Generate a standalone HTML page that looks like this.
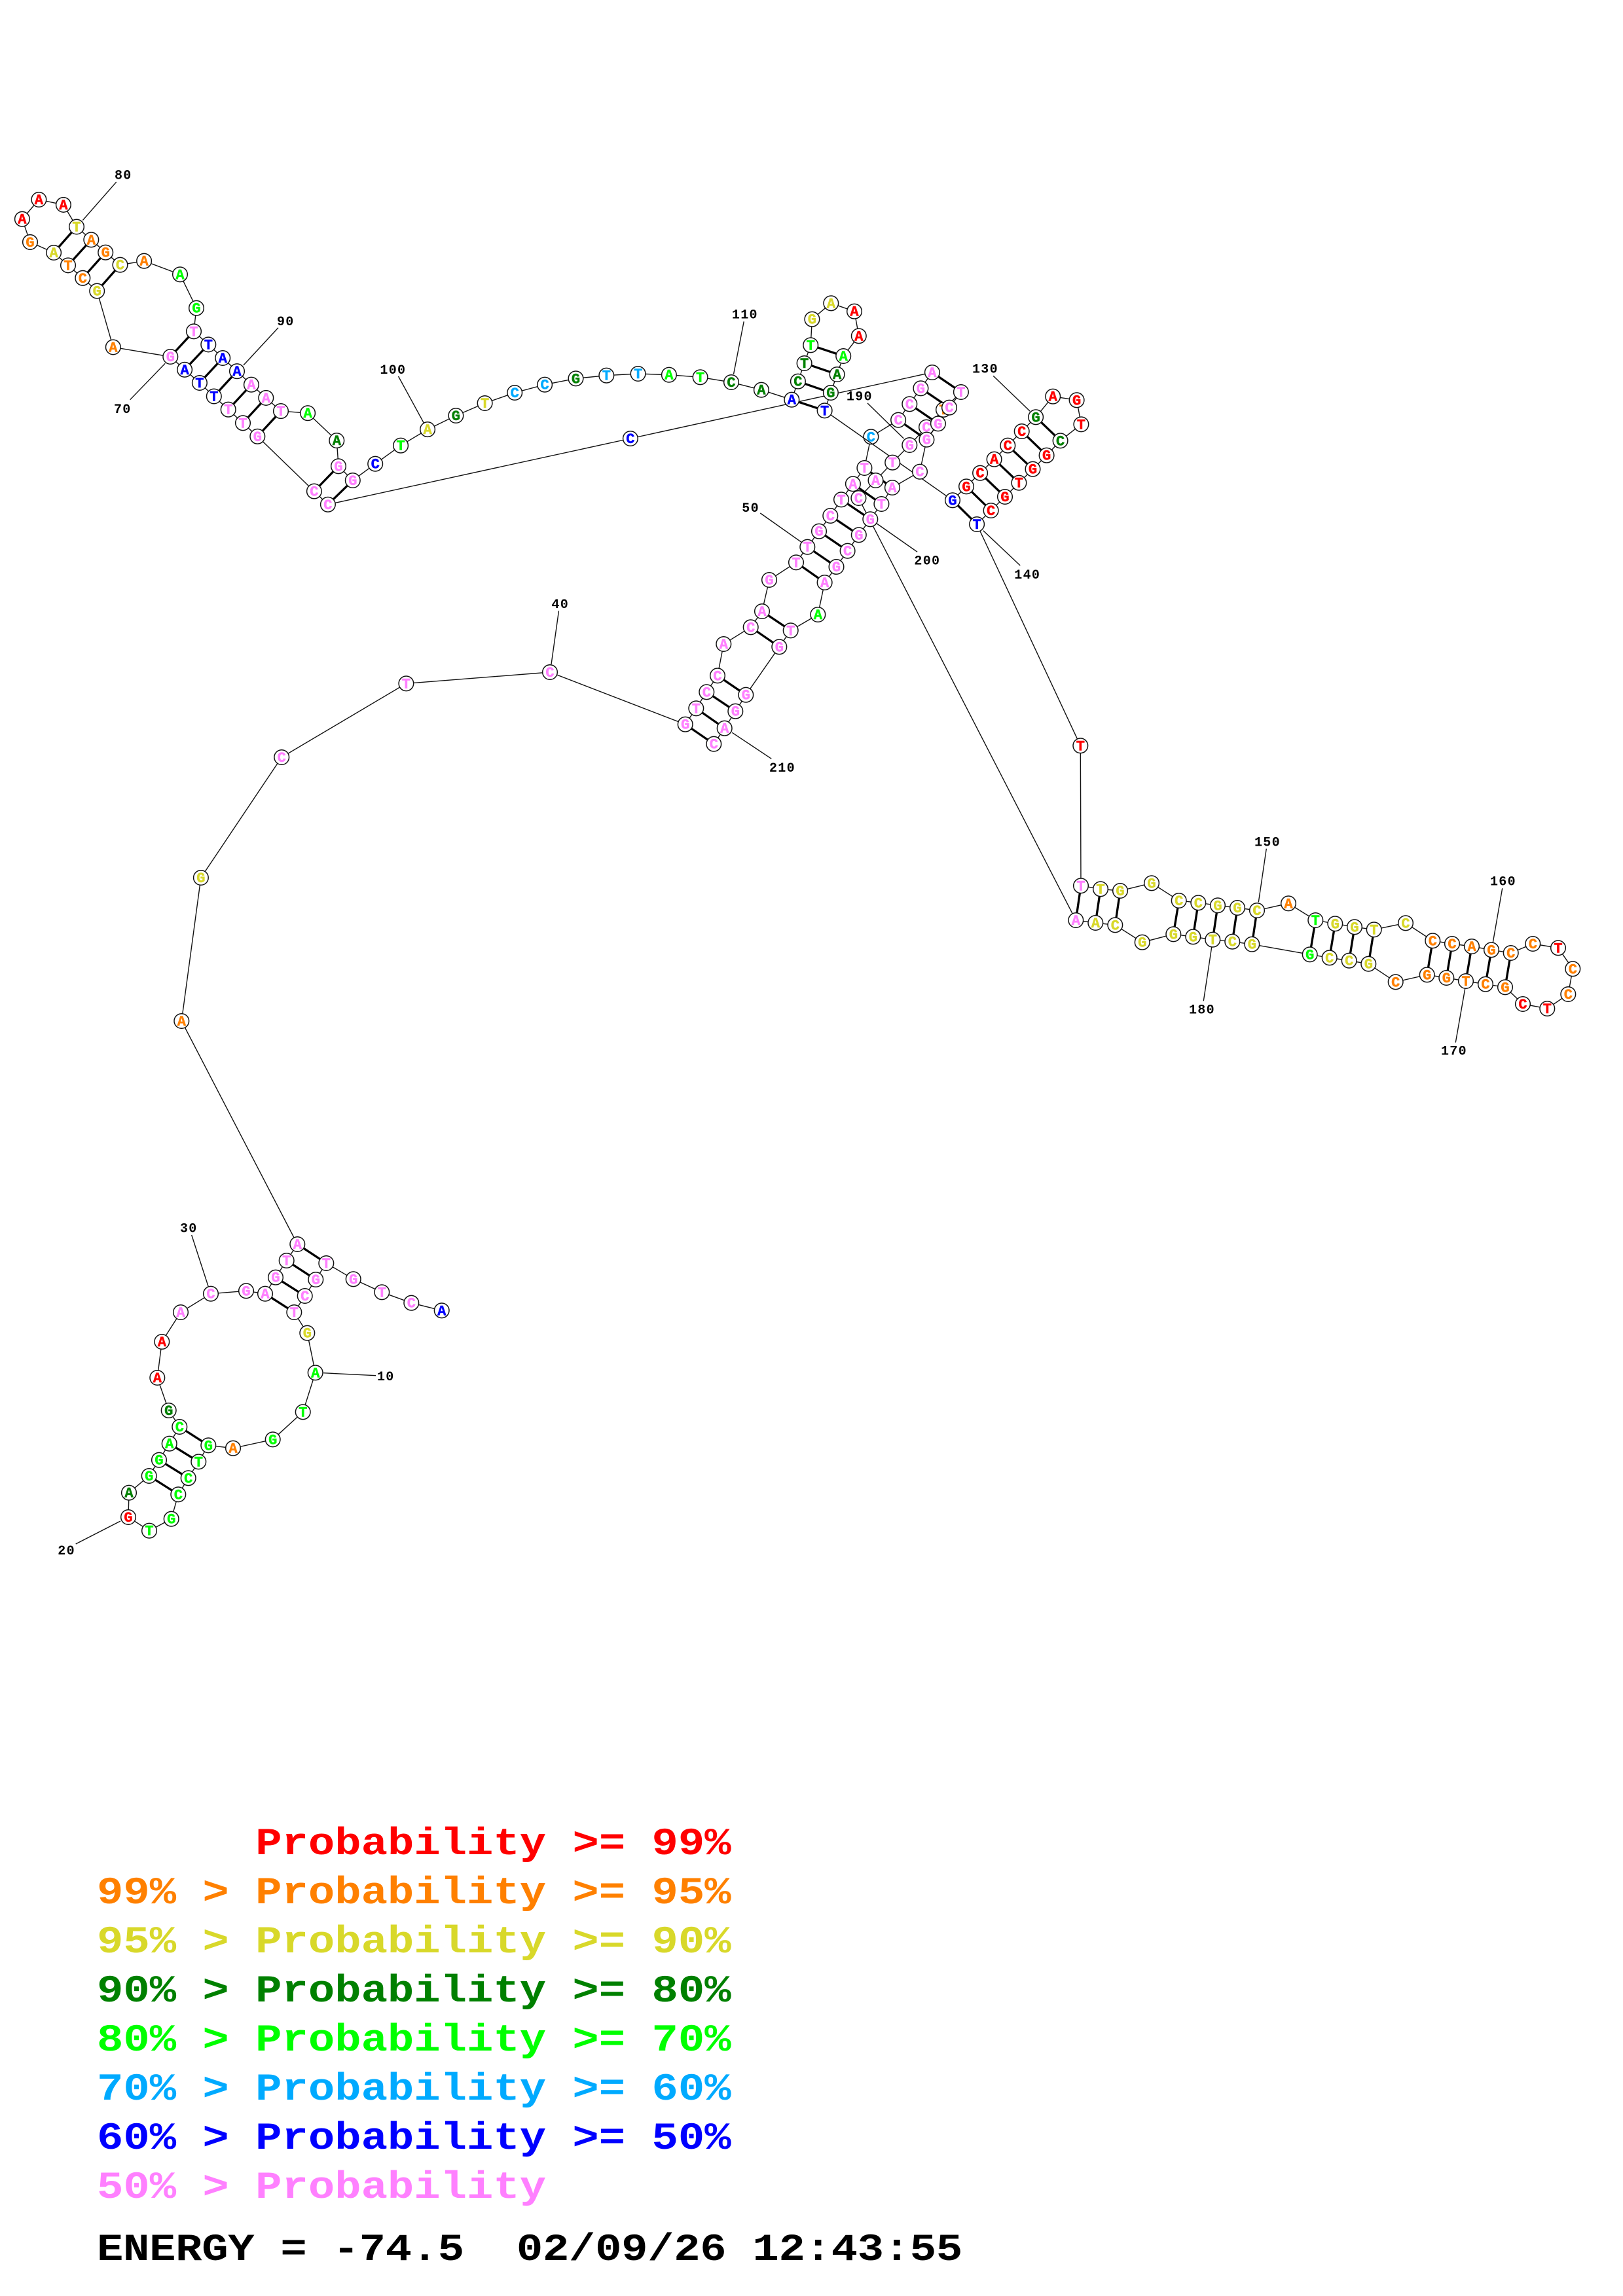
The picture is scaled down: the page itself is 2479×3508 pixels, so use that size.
<!DOCTYPE html>
<html><head><meta charset="utf-8"><title>Structure</title>
<style>
html,body{margin:0;padding:0;background:#fff}
svg{display:block}
.n text{font:bold 22px "Liberation Mono",monospace;text-anchor:middle;fill:currentColor;stroke:currentColor;stroke-width:.5}
.n circle{fill:#fff;stroke:#111;stroke-width:1.5}
.r{color:#f00}.o{color:#ff8000}.y{color:#d8d82a}.d{color:#008000}.g{color:#0f0}.l{color:#00aaff}.b{color:#00f}.p{color:#ff80ff}
.lab{font:bold 20px "Liberation Mono",monospace;letter-spacing:1.3px;fill:#000}
.bb{fill:none;stroke:#111;stroke-width:1.4}
.pr{fill:none;stroke:#000;stroke-width:3.3}
.lg{font:bold 67.27px "Liberation Mono",monospace}
</style></head><body>
<svg xmlns="http://www.w3.org/2000/svg" width="2479" height="3508" viewBox="0 0 2479 3508">
<rect width="2479" height="3508" fill="#fff"/>
<path class="pr" d="M498.3 1930L454.3 1901M482.3 1955L437.7 1926M465.7 1980L421 1951.7M449.3 2005L405 1976.7M318.3 2208.3L274.3 2180M303.3 2233.3L258.7 2205.7M287.7 2258.3L243 2230.7M272.3 2283.3L227.7 2255M1046.7 1106.7L1090.3 1136.7M1063.3 1082.3L1106.7 1112.7M1079.3 1057.3L1123.3 1086.7M1096 1032.3L1139.3 1061.7M1146.7 958.3L1190.3 988.3M1164 934L1207.7 963.3M1216 859.3L1259.6 890M1233.3 835.7L1277.5 866M1251 811.7L1294.6 841.7M1268.3 788L1311.8 817.3M1285 763.3L1329.3 793.3M1302.9 739.3L1346.4 770M1320.4 715L1362.9 745M1372.1 641.7L1415.4 671.7M1389.3 617.3L1432.9 647.3M1406.4 593.3L1450 622.7M1423.9 569L1467.9 599M500.9 770.8L538.8 734M479.9 750.6L517 712.3M393.3 666.8L429 628.1M371 646.3L406.3 607.9M348.7 625.7L383.9 587.7M326.8 605.5L362 567.2M304.9 585L340.2 547M282.1 564.8L318.3 526.4M260.3 545L296 506.3M148.2 444.6L183.5 404.7M126.3 424.8L161.2 385.7M104 405.4L139.3 366.3M82.1 386L117 346.5M1209.3 610.7L1259.6 627.3M1218.9 582.7L1268.9 600M1228.6 555L1278.6 572M1238.2 527.3L1288.2 544M1455 764.3L1492.1 801M1476 743.3L1513.6 780M1497.1 722.7L1535 759M1518.6 701.7L1556.4 737.7M1539.3 680.7L1577.5 716.7M1560.7 659L1598.6 695.7M1582.1 637.3L1619.6 673.3M1651 1353.3L1643.3 1406M1681 1358.3L1673.3 1410M1711 1361L1703.3 1413.3M1800.7 1376L1792.3 1427.3M1830.3 1379.3L1822.3 1431.3M1860 1383.3L1852.3 1435.7M1890 1387L1882.3 1438.7M1920 1391L1912.3 1442.7M2009.3 1406L2000.7 1458.3M2039.3 1411.3L2030.7 1463.3M2069 1416.3L2060.7 1467.7M2098.7 1420.3L2090.3 1472.7M2188.3 1437.3L2179.7 1489.3M2218 1442L2209.3 1494M2248 1446L2239 1499M2278 1451.3L2269 1503.7M2307.7 1456L2299 1508.3"/>
<path class="bb" d="M494 2097.7L574 2101.7M184 2324L115.7 2359M318.3 1966L292.7 1887M842 1015L853.5 933.3M126.3 336.6L177.7 278.1M252.2 555.3L198.7 610.7M371.9 558L425 500.7M647.3 646.2L608.5 575M1120.5 571.7L1136.2 491.3M1325 616L1380.4 670M1517.1 574.3L1573.2 628.3M1339.3 800L1401.1 843.3M1501.8 810.7L1558.2 864M1161.3 784L1224 828.3M1118.3 1119.3L1178.3 1159.3M1922.3 1378.3L1934.3 1296.7M1850.7 1447.3L1838.3 1529.3M2280.3 1440L2294.7 1357.3M2237.7 1510.7L2223.3 1592.7"/>
<path class="bb" d="M674.7 2002.3L628.3 1990.7L583.3 1974.3L539.7 1954.3L498.3 1930L482.3 1955L465.7 1980L449.3 2005L469.3 2036.7L481.7 2097.3L462.7 2157.3L416.7 2199.3L356 2212.7L318.3 2208.3L303.3 2233.3L287.7 2258.3L272.3 2283.3L261.7 2320.7L228 2338.7L196 2318L197 2280.7L227.7 2255L243 2230.7L258.7 2205.7L274.3 2180L257.7 2155L240.3 2105L247.3 2050L276 2005L322 1976.7L376 1972.3L405 1976.7L421 1951.7L437.7 1926L454.3 1901L277.3 1560L306.9 1341L430.2 1157L620.4 1044.3L840 1027L1046.7 1106.7L1063.3 1082.3L1079.3 1057.3L1096 1032.3L1105.3 984L1146.7 958.3L1164 934L1175 886L1216 859.3L1233.3 835.7L1251 811.7L1268.3 788L1285 763.3L1302.9 739.3L1320.4 715L1330.4 667.3L1372.1 641.7L1389.3 617.3L1406.4 593.3L1423.9 569L962.9 670L500.9 770.8L479.9 750.6L393.3 666.8L371 646.3L348.7 625.7L326.8 605.5L304.9 585L282.1 564.8L260.3 545L172.8 530.4L148.2 444.6L126.3 424.8L104 405.4L82.1 386L46 369.9L33.9 334.7L59.4 305L96.9 312.9L117 346.5L139.3 366.3L161.2 385.7L183.5 404.7L220.1 398.7L275 419.3L300 470.7L296 506.3L318.3 526.4L340.2 547L362 567.2L383.9 587.7L406.3 607.9L429 628.1L470.1 631.2L514.3 673.1L517 712.3L538.8 734L573.2 708.7L612.1 680.7L653.1 656.1L696.4 635L740.6 616L786.2 600L832.1 587.7L879.5 578.3L926.3 573.7L974.6 571L1021.9 572.7L1069.6 576.3L1117 584L1162.9 595.7L1209.3 610.7L1218.9 582.7L1228.6 555L1238.2 527.3L1240.4 487.7L1269.3 463.3L1305 475.7L1311.8 513.3L1288.2 544L1278.6 572L1268.9 600L1259.6 627.3"/>
<path class="bb" d="M1455 764.3L1476 743.3L1497.1 722.7L1518.6 701.7L1539.3 680.7L1560.7 659L1582.1 637.3L1608.2 605.7L1644.6 611.3L1651.4 648.3L1619.6 673.3L1598.6 695.7L1577.5 716.7L1556.4 737.7L1535 759L1513.6 780L1492.1 801L1650.3 1139.3L1651 1353.3L1681 1358.3L1711 1361L1759 1349.3L1800.7 1376L1830.3 1379.3L1860 1383.3L1890 1387L1920 1391L1968 1380.3L2009.3 1406L2039.3 1411.3L2069 1416.3L2098.7 1420.3L2147 1410.3L2188.3 1437.3L2218 1442L2248 1446L2278 1451.3L2307.7 1456L2341.3 1442L2380 1448.3L2402.3 1480.3L2395.3 1519L2363.3 1541L2326 1534L2299 1508.3L2269 1503.7L2239 1499L2209.3 1494L2179.7 1489.3L2131.7 1500.3L2090.3 1472.7L2060.7 1467.7L2030.7 1463.3L2000.7 1458.3L1912.3 1442.7L1882.3 1438.7L1852.3 1435.7L1822.3 1431.3L1792.3 1427.3L1744.7 1439.7L1703.3 1413.3L1673.3 1410L1643.3 1406L1311.4 761L1337.5 734L1363.2 706.7L1389.3 680L1415 652.7L1441 626L1467.9 599L1450 622.7L1432.9 647.3L1415.4 671.7L1405 720.7L1362.9 745L1346.4 770L1329.3 793.3L1311.8 817.3L1294.6 841.7L1277.5 866L1259.6 890L1249.3 939L1207.7 963.3L1190.3 988.3L1139.3 1061.7L1123.3 1086.7L1106.7 1112.7L1090.3 1136.7"/>

<g class="n b" transform="translate(674.7 2002.3)"><circle r="11.3"/><text y="7">A</text></g>
<g class="n p" transform="translate(628.3 1990.7)"><circle r="11.3"/><text y="7">C</text></g>
<g class="n p" transform="translate(583.3 1974.3)"><circle r="11.3"/><text y="7">T</text></g>
<g class="n p" transform="translate(539.7 1954.3)"><circle r="11.3"/><text y="7">G</text></g>
<g class="n p" transform="translate(498.3 1930)"><circle r="11.3"/><text y="7">T</text></g>
<g class="n p" transform="translate(482.3 1955)"><circle r="11.3"/><text y="7">G</text></g>
<g class="n p" transform="translate(465.7 1980)"><circle r="11.3"/><text y="7">C</text></g>
<g class="n p" transform="translate(449.3 2005)"><circle r="11.3"/><text y="7">T</text></g>
<g class="n y" transform="translate(469.3 2036.7)"><circle r="11.3"/><text y="7">G</text></g>
<g class="n g" transform="translate(481.7 2097.3)"><circle r="11.3"/><text y="7">A</text></g>
<g class="n g" transform="translate(462.7 2157.3)"><circle r="11.3"/><text y="7">T</text></g>
<g class="n g" transform="translate(416.7 2199.3)"><circle r="11.3"/><text y="7">G</text></g>
<g class="n o" transform="translate(356 2212.7)"><circle r="11.3"/><text y="7">A</text></g>
<g class="n g" transform="translate(318.3 2208.3)"><circle r="11.3"/><text y="7">G</text></g>
<g class="n g" transform="translate(303.3 2233.3)"><circle r="11.3"/><text y="7">T</text></g>
<g class="n g" transform="translate(287.7 2258.3)"><circle r="11.3"/><text y="7">C</text></g>
<g class="n g" transform="translate(272.3 2283.3)"><circle r="11.3"/><text y="7">C</text></g>
<g class="n g" transform="translate(261.7 2320.7)"><circle r="11.3"/><text y="7">G</text></g>
<g class="n g" transform="translate(228 2338.7)"><circle r="11.3"/><text y="7">T</text></g>
<g class="n r" transform="translate(196 2318)"><circle r="11.3"/><text y="7">G</text></g>
<g class="n d" transform="translate(197 2280.7)"><circle r="11.3"/><text y="7">A</text></g>
<g class="n g" transform="translate(227.7 2255)"><circle r="11.3"/><text y="7">G</text></g>
<g class="n g" transform="translate(243 2230.7)"><circle r="11.3"/><text y="7">G</text></g>
<g class="n g" transform="translate(258.7 2205.7)"><circle r="11.3"/><text y="7">A</text></g>
<g class="n g" transform="translate(274.3 2180)"><circle r="11.3"/><text y="7">C</text></g>
<g class="n d" transform="translate(257.7 2155)"><circle r="11.3"/><text y="7">G</text></g>
<g class="n r" transform="translate(240.3 2105)"><circle r="11.3"/><text y="7">A</text></g>
<g class="n r" transform="translate(247.3 2050)"><circle r="11.3"/><text y="7">A</text></g>
<g class="n p" transform="translate(276 2005)"><circle r="11.3"/><text y="7">A</text></g>
<g class="n p" transform="translate(322 1976.7)"><circle r="11.3"/><text y="7">C</text></g>
<g class="n p" transform="translate(376 1972.3)"><circle r="11.3"/><text y="7">G</text></g>
<g class="n p" transform="translate(405 1976.7)"><circle r="11.3"/><text y="7">A</text></g>
<g class="n p" transform="translate(421 1951.7)"><circle r="11.3"/><text y="7">G</text></g>
<g class="n p" transform="translate(437.7 1926)"><circle r="11.3"/><text y="7">T</text></g>
<g class="n p" transform="translate(454.3 1901)"><circle r="11.3"/><text y="7">A</text></g>
<g class="n o" transform="translate(277.3 1560)"><circle r="11.3"/><text y="7">A</text></g>
<g class="n y" transform="translate(306.9 1341)"><circle r="11.3"/><text y="7">G</text></g>
<g class="n p" transform="translate(430.2 1157)"><circle r="11.3"/><text y="7">C</text></g>
<g class="n p" transform="translate(620.4 1044.3)"><circle r="11.3"/><text y="7">T</text></g>
<g class="n p" transform="translate(840 1027)"><circle r="11.3"/><text y="7">C</text></g>
<g class="n p" transform="translate(1046.7 1106.7)"><circle r="11.3"/><text y="7">G</text></g>
<g class="n p" transform="translate(1063.3 1082.3)"><circle r="11.3"/><text y="7">T</text></g>
<g class="n p" transform="translate(1079.3 1057.3)"><circle r="11.3"/><text y="7">C</text></g>
<g class="n p" transform="translate(1096 1032.3)"><circle r="11.3"/><text y="7">C</text></g>
<g class="n p" transform="translate(1105.3 984)"><circle r="11.3"/><text y="7">A</text></g>
<g class="n p" transform="translate(1146.7 958.3)"><circle r="11.3"/><text y="7">C</text></g>
<g class="n p" transform="translate(1164 934)"><circle r="11.3"/><text y="7">A</text></g>
<g class="n p" transform="translate(1175 886)"><circle r="11.3"/><text y="7">G</text></g>
<g class="n p" transform="translate(1216 859.3)"><circle r="11.3"/><text y="7">T</text></g>
<g class="n p" transform="translate(1233.3 835.7)"><circle r="11.3"/><text y="7">T</text></g>
<g class="n p" transform="translate(1251 811.7)"><circle r="11.3"/><text y="7">G</text></g>
<g class="n p" transform="translate(1268.3 788)"><circle r="11.3"/><text y="7">C</text></g>
<g class="n p" transform="translate(1285 763.3)"><circle r="11.3"/><text y="7">T</text></g>
<g class="n p" transform="translate(1302.9 739.3)"><circle r="11.3"/><text y="7">A</text></g>
<g class="n p" transform="translate(1320.4 715)"><circle r="11.3"/><text y="7">T</text></g>
<g class="n l" transform="translate(1330.4 667.3)"><circle r="11.3"/><text y="7">C</text></g>
<g class="n p" transform="translate(1372.1 641.7)"><circle r="11.3"/><text y="7">C</text></g>
<g class="n p" transform="translate(1389.3 617.3)"><circle r="11.3"/><text y="7">C</text></g>
<g class="n p" transform="translate(1406.4 593.3)"><circle r="11.3"/><text y="7">G</text></g>
<g class="n p" transform="translate(1423.9 569)"><circle r="11.3"/><text y="7">A</text></g>
<g class="n b" transform="translate(962.9 670)"><circle r="11.3"/><text y="7">C</text></g>
<g class="n p" transform="translate(500.9 770.8)"><circle r="11.3"/><text y="7">C</text></g>
<g class="n p" transform="translate(479.9 750.6)"><circle r="11.3"/><text y="7">C</text></g>
<g class="n p" transform="translate(393.3 666.8)"><circle r="11.3"/><text y="7">G</text></g>
<g class="n p" transform="translate(371 646.3)"><circle r="11.3"/><text y="7">T</text></g>
<g class="n p" transform="translate(348.7 625.7)"><circle r="11.3"/><text y="7">T</text></g>
<g class="n b" transform="translate(326.8 605.5)"><circle r="11.3"/><text y="7">T</text></g>
<g class="n b" transform="translate(304.9 585)"><circle r="11.3"/><text y="7">T</text></g>
<g class="n b" transform="translate(282.1 564.8)"><circle r="11.3"/><text y="7">A</text></g>
<g class="n p" transform="translate(260.3 545)"><circle r="11.3"/><text y="7">G</text></g>
<g class="n o" transform="translate(172.8 530.4)"><circle r="11.3"/><text y="7">A</text></g>
<g class="n y" transform="translate(148.2 444.6)"><circle r="11.3"/><text y="7">G</text></g>
<g class="n o" transform="translate(126.3 424.8)"><circle r="11.3"/><text y="7">C</text></g>
<g class="n o" transform="translate(104 405.4)"><circle r="11.3"/><text y="7">T</text></g>
<g class="n y" transform="translate(82.1 386)"><circle r="11.3"/><text y="7">A</text></g>
<g class="n o" transform="translate(46 369.9)"><circle r="11.3"/><text y="7">G</text></g>
<g class="n r" transform="translate(33.9 334.7)"><circle r="11.3"/><text y="7">A</text></g>
<g class="n r" transform="translate(59.4 305)"><circle r="11.3"/><text y="7">A</text></g>
<g class="n r" transform="translate(96.9 312.9)"><circle r="11.3"/><text y="7">A</text></g>
<g class="n y" transform="translate(117 346.5)"><circle r="11.3"/><text y="7">T</text></g>
<g class="n o" transform="translate(139.3 366.3)"><circle r="11.3"/><text y="7">A</text></g>
<g class="n o" transform="translate(161.2 385.7)"><circle r="11.3"/><text y="7">G</text></g>
<g class="n y" transform="translate(183.5 404.7)"><circle r="11.3"/><text y="7">C</text></g>
<g class="n o" transform="translate(220.1 398.7)"><circle r="11.3"/><text y="7">A</text></g>
<g class="n g" transform="translate(275 419.3)"><circle r="11.3"/><text y="7">A</text></g>
<g class="n g" transform="translate(300 470.7)"><circle r="11.3"/><text y="7">G</text></g>
<g class="n p" transform="translate(296 506.3)"><circle r="11.3"/><text y="7">T</text></g>
<g class="n b" transform="translate(318.3 526.4)"><circle r="11.3"/><text y="7">T</text></g>
<g class="n b" transform="translate(340.2 547)"><circle r="11.3"/><text y="7">A</text></g>
<g class="n b" transform="translate(362 567.2)"><circle r="11.3"/><text y="7">A</text></g>
<g class="n p" transform="translate(383.9 587.7)"><circle r="11.3"/><text y="7">A</text></g>
<g class="n p" transform="translate(406.3 607.9)"><circle r="11.3"/><text y="7">A</text></g>
<g class="n p" transform="translate(429 628.1)"><circle r="11.3"/><text y="7">T</text></g>
<g class="n g" transform="translate(470.1 631.2)"><circle r="11.3"/><text y="7">A</text></g>
<g class="n d" transform="translate(514.3 673.1)"><circle r="11.3"/><text y="7">A</text></g>
<g class="n p" transform="translate(517 712.3)"><circle r="11.3"/><text y="7">G</text></g>
<g class="n p" transform="translate(538.8 734)"><circle r="11.3"/><text y="7">G</text></g>
<g class="n b" transform="translate(573.2 708.7)"><circle r="11.3"/><text y="7">C</text></g>
<g class="n g" transform="translate(612.1 680.7)"><circle r="11.3"/><text y="7">T</text></g>
<g class="n y" transform="translate(653.1 656.1)"><circle r="11.3"/><text y="7">A</text></g>
<g class="n d" transform="translate(696.4 635)"><circle r="11.3"/><text y="7">G</text></g>
<g class="n y" transform="translate(740.6 616)"><circle r="11.3"/><text y="7">T</text></g>
<g class="n l" transform="translate(786.2 600)"><circle r="11.3"/><text y="7">C</text></g>
<g class="n l" transform="translate(832.1 587.7)"><circle r="11.3"/><text y="7">C</text></g>
<g class="n d" transform="translate(879.5 578.3)"><circle r="11.3"/><text y="7">G</text></g>
<g class="n l" transform="translate(926.3 573.7)"><circle r="11.3"/><text y="7">T</text></g>
<g class="n l" transform="translate(974.6 571)"><circle r="11.3"/><text y="7">T</text></g>
<g class="n g" transform="translate(1021.9 572.7)"><circle r="11.3"/><text y="7">A</text></g>
<g class="n g" transform="translate(1069.6 576.3)"><circle r="11.3"/><text y="7">T</text></g>
<g class="n d" transform="translate(1117 584)"><circle r="11.3"/><text y="7">C</text></g>
<g class="n d" transform="translate(1162.9 595.7)"><circle r="11.3"/><text y="7">A</text></g>
<g class="n b" transform="translate(1209.3 610.7)"><circle r="11.3"/><text y="7">A</text></g>
<g class="n d" transform="translate(1218.9 582.7)"><circle r="11.3"/><text y="7">C</text></g>
<g class="n d" transform="translate(1228.6 555)"><circle r="11.3"/><text y="7">T</text></g>
<g class="n g" transform="translate(1238.2 527.3)"><circle r="11.3"/><text y="7">T</text></g>
<g class="n y" transform="translate(1240.4 487.7)"><circle r="11.3"/><text y="7">G</text></g>
<g class="n y" transform="translate(1269.3 463.3)"><circle r="11.3"/><text y="7">A</text></g>
<g class="n r" transform="translate(1305 475.7)"><circle r="11.3"/><text y="7">A</text></g>
<g class="n r" transform="translate(1311.8 513.3)"><circle r="11.3"/><text y="7">A</text></g>
<g class="n g" transform="translate(1288.2 544)"><circle r="11.3"/><text y="7">A</text></g>
<g class="n d" transform="translate(1278.6 572)"><circle r="11.3"/><text y="7">A</text></g>
<g class="n d" transform="translate(1268.9 600)"><circle r="11.3"/><text y="7">G</text></g>
<path class="bb" d="M1259.6 627.3L1455 764.3"/>
<g class="n b" transform="translate(1259.6 627.3)"><circle r="11.3"/><text y="7">T</text></g>
<g class="n b" transform="translate(1455 764.3)"><circle r="11.3"/><text y="7">G</text></g>
<g class="n r" transform="translate(1476 743.3)"><circle r="11.3"/><text y="7">G</text></g>
<g class="n r" transform="translate(1497.1 722.7)"><circle r="11.3"/><text y="7">C</text></g>
<g class="n r" transform="translate(1518.6 701.7)"><circle r="11.3"/><text y="7">A</text></g>
<g class="n r" transform="translate(1539.3 680.7)"><circle r="11.3"/><text y="7">C</text></g>
<g class="n r" transform="translate(1560.7 659)"><circle r="11.3"/><text y="7">C</text></g>
<g class="n d" transform="translate(1582.1 637.3)"><circle r="11.3"/><text y="7">G</text></g>
<g class="n r" transform="translate(1608.2 605.7)"><circle r="11.3"/><text y="7">A</text></g>
<g class="n r" transform="translate(1644.6 611.3)"><circle r="11.3"/><text y="7">G</text></g>
<g class="n r" transform="translate(1651.4 648.3)"><circle r="11.3"/><text y="7">T</text></g>
<g class="n d" transform="translate(1619.6 673.3)"><circle r="11.3"/><text y="7">C</text></g>
<g class="n r" transform="translate(1598.6 695.7)"><circle r="11.3"/><text y="7">G</text></g>
<g class="n r" transform="translate(1577.5 716.7)"><circle r="11.3"/><text y="7">G</text></g>
<g class="n r" transform="translate(1556.4 737.7)"><circle r="11.3"/><text y="7">T</text></g>
<g class="n r" transform="translate(1535 759)"><circle r="11.3"/><text y="7">G</text></g>
<g class="n r" transform="translate(1513.6 780)"><circle r="11.3"/><text y="7">C</text></g>
<g class="n b" transform="translate(1492.1 801)"><circle r="11.3"/><text y="7">T</text></g>
<g class="n r" transform="translate(1650.3 1139.3)"><circle r="11.3"/><text y="7">T</text></g>
<g class="n p" transform="translate(1651 1353.3)"><circle r="11.3"/><text y="7">T</text></g>
<g class="n y" transform="translate(1681 1358.3)"><circle r="11.3"/><text y="7">T</text></g>
<g class="n y" transform="translate(1711 1361)"><circle r="11.3"/><text y="7">G</text></g>
<g class="n y" transform="translate(1759 1349.3)"><circle r="11.3"/><text y="7">G</text></g>
<g class="n y" transform="translate(1800.7 1376)"><circle r="11.3"/><text y="7">C</text></g>
<g class="n y" transform="translate(1830.3 1379.3)"><circle r="11.3"/><text y="7">C</text></g>
<g class="n y" transform="translate(1860 1383.3)"><circle r="11.3"/><text y="7">G</text></g>
<g class="n y" transform="translate(1890 1387)"><circle r="11.3"/><text y="7">G</text></g>
<g class="n y" transform="translate(1920 1391)"><circle r="11.3"/><text y="7">C</text></g>
<g class="n o" transform="translate(1968 1380.3)"><circle r="11.3"/><text y="7">A</text></g>
<g class="n g" transform="translate(2009.3 1406)"><circle r="11.3"/><text y="7">T</text></g>
<g class="n y" transform="translate(2039.3 1411.3)"><circle r="11.3"/><text y="7">G</text></g>
<g class="n y" transform="translate(2069 1416.3)"><circle r="11.3"/><text y="7">G</text></g>
<g class="n y" transform="translate(2098.7 1420.3)"><circle r="11.3"/><text y="7">T</text></g>
<g class="n y" transform="translate(2147 1410.3)"><circle r="11.3"/><text y="7">C</text></g>
<g class="n o" transform="translate(2188.3 1437.3)"><circle r="11.3"/><text y="7">C</text></g>
<g class="n o" transform="translate(2218 1442)"><circle r="11.3"/><text y="7">C</text></g>
<g class="n o" transform="translate(2248 1446)"><circle r="11.3"/><text y="7">A</text></g>
<g class="n o" transform="translate(2278 1451.3)"><circle r="11.3"/><text y="7">G</text></g>
<g class="n o" transform="translate(2307.7 1456)"><circle r="11.3"/><text y="7">C</text></g>
<g class="n o" transform="translate(2341.3 1442)"><circle r="11.3"/><text y="7">C</text></g>
<g class="n r" transform="translate(2380 1448.3)"><circle r="11.3"/><text y="7">T</text></g>
<g class="n o" transform="translate(2402.3 1480.3)"><circle r="11.3"/><text y="7">C</text></g>
<g class="n o" transform="translate(2395.3 1519)"><circle r="11.3"/><text y="7">C</text></g>
<g class="n r" transform="translate(2363.3 1541)"><circle r="11.3"/><text y="7">T</text></g>
<g class="n r" transform="translate(2326 1534)"><circle r="11.3"/><text y="7">C</text></g>
<g class="n o" transform="translate(2299 1508.3)"><circle r="11.3"/><text y="7">G</text></g>
<g class="n o" transform="translate(2269 1503.7)"><circle r="11.3"/><text y="7">C</text></g>
<g class="n o" transform="translate(2239 1499)"><circle r="11.3"/><text y="7">T</text></g>
<g class="n o" transform="translate(2209.3 1494)"><circle r="11.3"/><text y="7">G</text></g>
<g class="n o" transform="translate(2179.7 1489.3)"><circle r="11.3"/><text y="7">G</text></g>
<g class="n o" transform="translate(2131.7 1500.3)"><circle r="11.3"/><text y="7">C</text></g>
<g class="n y" transform="translate(2090.3 1472.7)"><circle r="11.3"/><text y="7">G</text></g>
<g class="n y" transform="translate(2060.7 1467.7)"><circle r="11.3"/><text y="7">C</text></g>
<g class="n y" transform="translate(2030.7 1463.3)"><circle r="11.3"/><text y="7">C</text></g>
<g class="n g" transform="translate(2000.7 1458.3)"><circle r="11.3"/><text y="7">G</text></g>
<g class="n y" transform="translate(1912.3 1442.7)"><circle r="11.3"/><text y="7">G</text></g>
<g class="n y" transform="translate(1882.3 1438.7)"><circle r="11.3"/><text y="7">C</text></g>
<g class="n y" transform="translate(1852.3 1435.7)"><circle r="11.3"/><text y="7">T</text></g>
<g class="n y" transform="translate(1822.3 1431.3)"><circle r="11.3"/><text y="7">G</text></g>
<g class="n y" transform="translate(1792.3 1427.3)"><circle r="11.3"/><text y="7">G</text></g>
<g class="n y" transform="translate(1744.7 1439.7)"><circle r="11.3"/><text y="7">G</text></g>
<g class="n y" transform="translate(1703.3 1413.3)"><circle r="11.3"/><text y="7">C</text></g>
<g class="n y" transform="translate(1673.3 1410)"><circle r="11.3"/><text y="7">A</text></g>
<g class="n p" transform="translate(1643.3 1406)"><circle r="11.3"/><text y="7">A</text></g>
<g class="n p" transform="translate(1311.4 761)"><circle r="11.3"/><text y="7">C</text></g>
<g class="n p" transform="translate(1337.5 734)"><circle r="11.3"/><text y="7">A</text></g>
<g class="n p" transform="translate(1363.2 706.7)"><circle r="11.3"/><text y="7">T</text></g>
<g class="n p" transform="translate(1389.3 680)"><circle r="11.3"/><text y="7">G</text></g>
<g class="n p" transform="translate(1415 652.7)"><circle r="11.3"/><text y="7">C</text></g>
<g class="n o" transform="translate(1441 626)"><circle r="11.3"/><text y="7">T</text></g>
<g class="n p" transform="translate(1467.9 599)"><circle r="11.3"/><text y="7">T</text></g>
<g class="n p" transform="translate(1450 622.7)"><circle r="11.3"/><text y="7">C</text></g>
<g class="n p" transform="translate(1432.9 647.3)"><circle r="11.3"/><text y="7">G</text></g>
<g class="n p" transform="translate(1415.4 671.7)"><circle r="11.3"/><text y="7">G</text></g>
<g class="n p" transform="translate(1405 720.7)"><circle r="11.3"/><text y="7">C</text></g>
<g class="n p" transform="translate(1362.9 745)"><circle r="11.3"/><text y="7">A</text></g>
<g class="n p" transform="translate(1346.4 770)"><circle r="11.3"/><text y="7">T</text></g>
<g class="n p" transform="translate(1329.3 793.3)"><circle r="11.3"/><text y="7">G</text></g>
<g class="n p" transform="translate(1311.8 817.3)"><circle r="11.3"/><text y="7">G</text></g>
<g class="n p" transform="translate(1294.6 841.7)"><circle r="11.3"/><text y="7">C</text></g>
<g class="n p" transform="translate(1277.5 866)"><circle r="11.3"/><text y="7">G</text></g>
<g class="n p" transform="translate(1259.6 890)"><circle r="11.3"/><text y="7">A</text></g>
<g class="n g" transform="translate(1249.3 939)"><circle r="11.3"/><text y="7">A</text></g>
<g class="n p" transform="translate(1207.7 963.3)"><circle r="11.3"/><text y="7">T</text></g>
<g class="n p" transform="translate(1190.3 988.3)"><circle r="11.3"/><text y="7">G</text></g>
<g class="n p" transform="translate(1139.3 1061.7)"><circle r="11.3"/><text y="7">G</text></g>
<g class="n p" transform="translate(1123.3 1086.7)"><circle r="11.3"/><text y="7">G</text></g>
<g class="n p" transform="translate(1106.7 1112.7)"><circle r="11.3"/><text y="7">A</text></g>
<g class="n p" transform="translate(1090.3 1136.7)"><circle r="11.3"/><text y="7">C</text></g>

<text class="lab" x="576" y="2109">10</text>
<text class="lab" x="88.3" y="2375">20</text>
<text class="lab" x="275" y="1882.7">30</text>
<text class="lab" x="842.4" y="929">40</text>
<text class="lab" x="1133.3" y="782">50</text>
<text class="lab" x="174" y="631.2">70</text>
<text class="lab" x="175" y="273.4">80</text>
<text class="lab" x="423" y="496.8">90</text>
<text class="lab" x="580.4" y="571.1">100</text>
<text class="lab" x="1117.9" y="486.7">110</text>
<text class="lab" x="1485" y="569.3">130</text>
<text class="lab" x="1549.3" y="884">140</text>
<text class="lab" x="1916" y="1292.7">150</text>
<text class="lab" x="2276" y="1352.7">160</text>
<text class="lab" x="2201" y="1611.7">170</text>
<text class="lab" x="1816" y="1548.3">180</text>
<text class="lab" x="1292.9" y="611.7">190</text>
<text class="lab" x="1396.4" y="862.7">200</text>
<text class="lab" x="1175" y="1179">210</text>

<g class="lg">
<text transform="translate(390.2 2833) scale(1 .87)" fill="#f00">Probability &gt;= 99%</text>
<text transform="translate(148 2908) scale(1 .87)" fill="#ff8000">99% &gt; Probability &gt;= 95%</text>
<text transform="translate(148 2983) scale(1 .87)" fill="#d8d82a">95% &gt; Probability &gt;= 90%</text>
<text transform="translate(148 3058) scale(1 .87)" fill="#008000">90% &gt; Probability &gt;= 80%</text>
<text transform="translate(148 3133) scale(1 .87)" fill="#0f0">80% &gt; Probability &gt;= 70%</text>
<text transform="translate(148 3208) scale(1 .87)" fill="#00aaff">70% &gt; Probability &gt;= 60%</text>
<text transform="translate(148 3283) scale(1 .87)" fill="#00f">60% &gt; Probability &gt;= 50%</text>
<text transform="translate(148 3358) scale(1 .87)" fill="#ff80ff">50% &gt; Probability</text>
<text transform="translate(148 3453) scale(1 .87)" fill="#000" letter-spacing="-.3">ENERGY = -74.5&#160;&#160;02/09/26 12:43:55</text>
</g>
</svg>
</body></html>
